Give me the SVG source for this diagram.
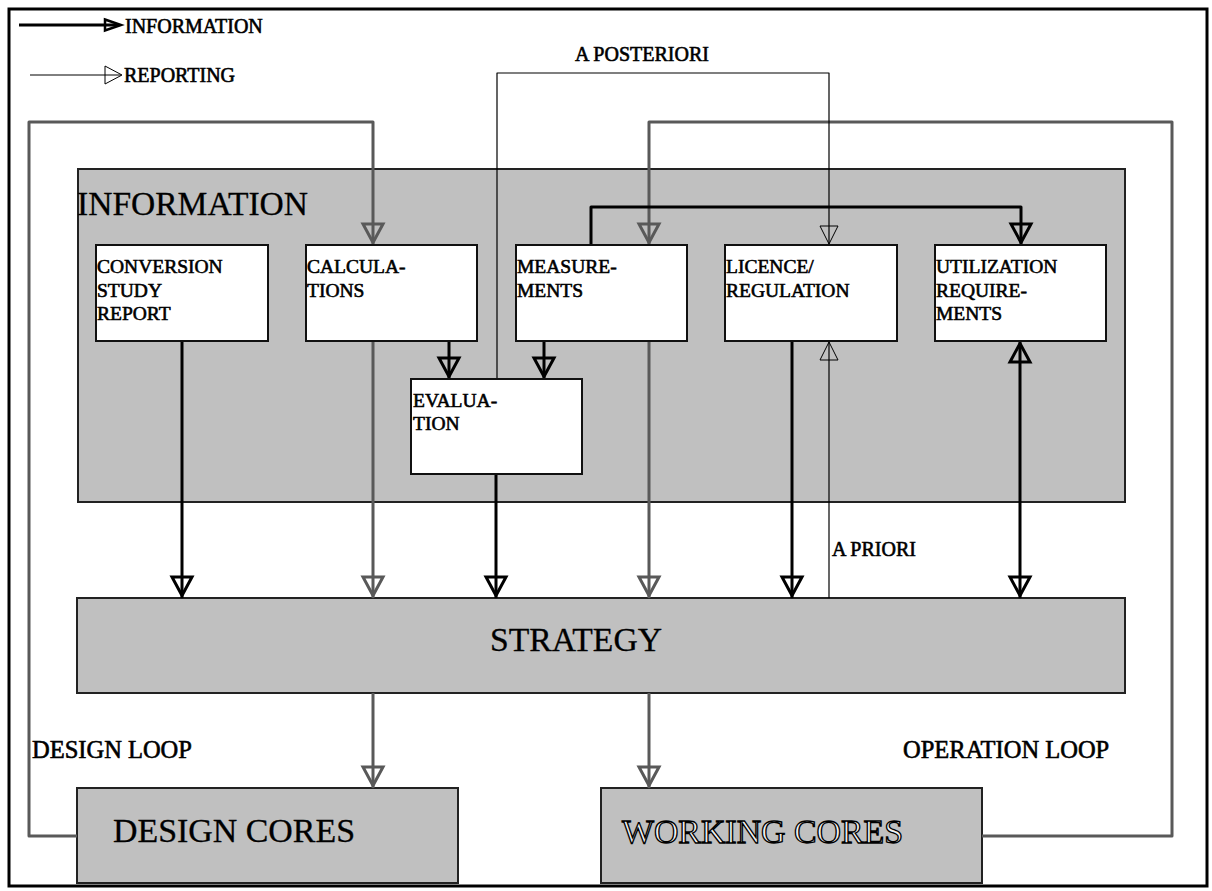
<svg xmlns="http://www.w3.org/2000/svg" width="1212" height="891" viewBox="0 0 1212 891" font-family="'Liberation Serif', 'DejaVu Serif', serif">
<style>
text{font-family:'Liberation Serif','DejaVu Serif',serif;fill:#000}
.lg{font-size:20px;stroke:#000;stroke-width:0.6}
.nt{font-size:19.5px;stroke:#000;stroke-width:0.6}
.big{font-size:33px;stroke:#000;stroke-width:0.3}
.lbl{font-size:20px;stroke:#000;stroke-width:0.6}
.loop{font-size:24.5px;stroke:#000;stroke-width:0.6}
.box{fill:#fff;stroke:#111;stroke-width:2}
.gbox{fill:#c0c0c0;stroke:#222;stroke-width:2}
.c{fill:none;stroke-linejoin:round}
.k{stroke:#000;stroke-width:3}
.g{stroke:#595959;stroke-width:3}
.t{stroke:#000;stroke-width:1.2}
</style>
<defs>
<marker id="hk" viewBox="-24 -12 26 24" refX="0" refY="0" markerWidth="26" markerHeight="24" markerUnits="userSpaceOnUse" orient="auto-start-reverse" overflow="visible">
<path d="M-21,-10 L-2.5,0 L-21,10 Z" fill="none" stroke="#000" stroke-width="3"/>
</marker>
<marker id="hg" viewBox="-24 -12 26 24" refX="0" refY="0" markerWidth="26" markerHeight="24" markerUnits="userSpaceOnUse" orient="auto" overflow="visible">
<path d="M-21,-10 L-2.5,0 L-21,10 Z" fill="none" stroke="#595959" stroke-width="3"/>
</marker>
<marker id="ht" viewBox="-24 -12 26 24" refX="0" refY="0" markerWidth="26" markerHeight="24" markerUnits="userSpaceOnUse" orient="auto" overflow="visible">
<path d="M-19,-9 L-1,0 L-19,9 Z" fill="none" stroke="#000" stroke-width="1"/>
</marker>
</defs>
<rect x="0" y="0" width="1212" height="891" fill="#fff"/>
<rect id="frame" x="9" y="9" width="1198" height="877" fill="none" stroke="#000" stroke-width="3"/>

<g id="legend">
<line x1="19" y1="25" x2="119" y2="25" stroke="#000" stroke-width="3"/>
<path d="M105,19.5 L121,25 L105,30.5 Z" fill="none" stroke="#000" stroke-width="2.5"/>
<text class="lg" x="125" y="33">INFORMATION</text>
<line x1="30" y1="75" x2="121" y2="75" stroke="#000" stroke-width="1"/>
<path d="M105,66 L122,75 L105,84 Z" fill="none" stroke="#000" stroke-width="1"/>
<text class="lg" x="124" y="82">REPORTING</text>
</g>

<g id="information">
<rect class="gbox" x="78" y="169" width="1047" height="333" stroke-width="1.5"/>
<text class="big" x="77" y="215" font-size="33.5" textLength="231" lengthAdjust="spacingAndGlyphs">INFORMATION</text>
</g>

<g id="strategy">
<rect class="gbox" x="77" y="598" width="1048" height="95"/>
<text class="big" x="490" y="651" textLength="172" lengthAdjust="spacingAndGlyphs">STRATEGY</text>
</g>

<g id="design-cores">
<rect class="gbox" x="77" y="788" width="381" height="95"/>
<text class="big" x="113" y="842" font-size="34" textLength="242" lengthAdjust="spacingAndGlyphs">DESIGN CORES</text>
</g>

<g id="working-cores">
<rect class="gbox" x="601" y="788" width="381" height="95"/>
<text x="622" y="843" font-size="33" stroke="#000" stroke-width="1.3" textLength="281" lengthAdjust="spacingAndGlyphs" style="fill:#f4f4f4">WORKING CORES</text>
</g>

<g id="labels">
<text class="lbl" x="575" y="61">A POSTERIORI</text>
<text class="lbl" x="832" y="556">A PRIORI</text>
<text class="loop" x="32" y="758">DESIGN LOOP</text>
<text class="loop" x="903" y="758">OPERATION LOOP</text>
</g>

<g id="connectors">
<path class="c g" d="M77,836 H29 V122 H373 V245" marker-end="url(#hg)"/>
<path class="c g" d="M982,836 H1172 V122 H649 V245" marker-end="url(#hg)"/>
<path class="c t" d="M497,379 V73 H829 V245" marker-end="url(#ht)"/>
<path class="c k" d="M591,245 V207 H1021 V245" marker-end="url(#hk)"/>
<path class="c k" d="M182,341 V598" marker-end="url(#hk)"/>
<path class="c g" d="M373,341 V598" marker-end="url(#hg)"/>
<path class="c k" d="M449,341 V379" marker-end="url(#hk)"/>
<path class="c k" d="M544,341 V379" marker-end="url(#hk)"/>
<path class="c k" d="M496,474 V598" marker-end="url(#hk)"/>
<path class="c g" d="M649,341 V598" marker-end="url(#hg)"/>
<path class="c k" d="M792,341 V598" marker-end="url(#hk)"/>
<path class="c t" d="M829,598 V341" marker-end="url(#ht)"/>
<path class="c k" d="M1020,341 V598" marker-start="url(#hk)" marker-end="url(#hk)"/>
<path class="c g" d="M373,693 V788" marker-end="url(#hg)"/>
<path class="c g" d="M649,693 V788" marker-end="url(#hg)"/>
</g>

<g id="conversion-study-report">
<rect class="box" x="96" y="245" width="172" height="96"/>
<text class="nt" x="97" y="273">CONVERSION</text>
<text class="nt" x="97" y="296.5">STUDY</text>
<text class="nt" x="97" y="319.5">REPORT</text>
</g>
<g id="calculations">
<rect class="box" x="306" y="245" width="171" height="96"/>
<text class="nt" x="307" y="273">CALCULA-</text>
<text class="nt" x="307" y="296.5">TIONS</text>
</g>
<g id="measurements">
<rect class="box" x="516" y="245" width="171" height="96"/>
<text class="nt" x="517" y="273">MEASURE-</text>
<text class="nt" x="517" y="296.5">MENTS</text>
</g>
<g id="licence-regulation">
<rect class="box" x="725" y="245" width="172" height="96"/>
<text class="nt" x="726" y="273">LICENCE/</text>
<text class="nt" x="726" y="296.5">REGULATION</text>
</g>
<g id="utilization-requirements">
<rect class="box" x="935" y="245" width="171" height="96"/>
<text class="nt" x="936" y="273">UTILIZATION</text>
<text class="nt" x="936" y="296.5">REQUIRE-</text>
<text class="nt" x="936" y="319.5">MENTS</text>
</g>
<g id="evaluation">
<rect class="box" x="411" y="379" width="171" height="95"/>
<text class="nt" x="413" y="407">EVALUA-</text>
<text class="nt" x="413" y="430">TION</text>
</g>
</svg>
